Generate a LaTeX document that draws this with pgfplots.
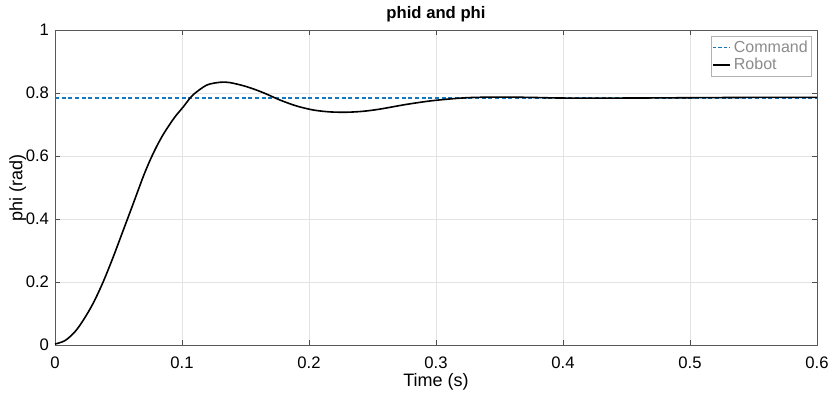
\documentclass[border=0pt]{standalone}
\usepackage{pgfplots}
\pgfplotsset{compat=1.18}
\usepackage{fontspec}
\setmainfont{Liberation Sans}
\definecolor{mblue}{RGB}{20,120,190}
\begin{document}
\begin{tikzpicture}
\begin{axis}[
  name=ax,
  scale only axis,
  width=571.5pt, height=236.25pt,
  xmin=0, xmax=0.6, ymin=0, ymax=1,
  xtick={0,0.1,0.2,0.3,0.4,0.5,0.6},
  ytick={0,0.2,0.4,0.6,0.8,1},
  xticklabels={0,0.1,0.2,0.3,0.4,0.5,0.6},
  yticklabels={0,0.2,0.4,0.6,0.8,1},
  grid=major,
  grid style={gray!22, line width=0.6pt},
  axis line style={black!65, line width=0.6pt},
  tick style={black!70},
  tick align=inside,
  major tick length=4pt,
  ticklabel style={font=\fontsize{12.5}{14}\selectfont},
  xticklabel style={yshift=-5pt},
  yticklabel style={xshift=-1pt},
  xlabel={Time (s)}, ylabel={phi (rad)},
  label style={font=\fontsize{13.5}{15}\selectfont},
  xlabel style={at={(axis description cs:0.5,0)}, anchor=center, yshift=-28pt},
  ylabel style={at={(axis description cs:-0.049,0.5)}, anchor=center},
  legend style={at={(axis description cs:1,1)}, xshift=-3.75pt, yshift=-4.3pt,
    anchor=north east, draw=black!30,
    font=\fontsize{12}{13}\selectfont, inner xsep=1pt, inner ysep=1.5pt,
    row sep=-1pt, cells={anchor=west}},
  legend cell align=left,
  legend image code/.code={\draw[#1] (0cm,0cm) -- (13pt,0cm);},
]
\addplot[draw=mblue, dash pattern=on 3pt off 2pt, line width=1.2pt,
  legend image code/.code={\draw[draw=mblue, line width=1.3pt, dash pattern=on 2.5pt off 1.5pt] (0cm,0cm) -- (13pt,0cm);}]
  coordinates {(0,0.785) (0.6,0.785)};
\addlegendentry{\textcolor{black!45}{Command}}
\addplot[draw=black, line width=1.2pt, smooth, tension=0.5] coordinates {
(0,0.003) (0.0079,0.014) (0.0157,0.042) (0.0223,0.079) (0.030,0.132)
(0.038,0.201) (0.0459,0.280) (0.0538,0.365) (0.0617,0.450) (0.066,0.497)
(0.070,0.540) (0.075,0.588) (0.080,0.630) (0.085,0.667) (0.0906,0.702)
(0.095,0.727) (0.101,0.756) (0.105,0.777) (0.1089,0.795)
(0.1194,0.825) (0.130,0.834) (0.1378,0.833) (0.151,0.820) (0.164,0.801)
(0.177,0.778) (0.190,0.759) (0.2034,0.746) (0.2165,0.740) (0.2297,0.739)
(0.2428,0.742) (0.256,0.749) (0.277,0.764) (0.298,0.776) (0.324,0.785)
(0.35,0.787) (0.375,0.786) (0.40,0.784) (0.45,0.784) (0.50,0.785) (0.55,0.786) (0.6,0.786)
};
\addlegendentry{\textcolor{black!45}{Robot}}
\end{axis}
\node[font=\fontsize{12.5}{14}\selectfont\bfseries, anchor=center] at ([yshift=11.5pt]ax.north) {phid and phi};
\pgfresetboundingbox
\path ([xshift=-41.25pt,yshift=-39pt]ax.south west) rectangle ([xshift=12.75pt,yshift=22.5pt]ax.north east);
\end{tikzpicture}
\end{document}
